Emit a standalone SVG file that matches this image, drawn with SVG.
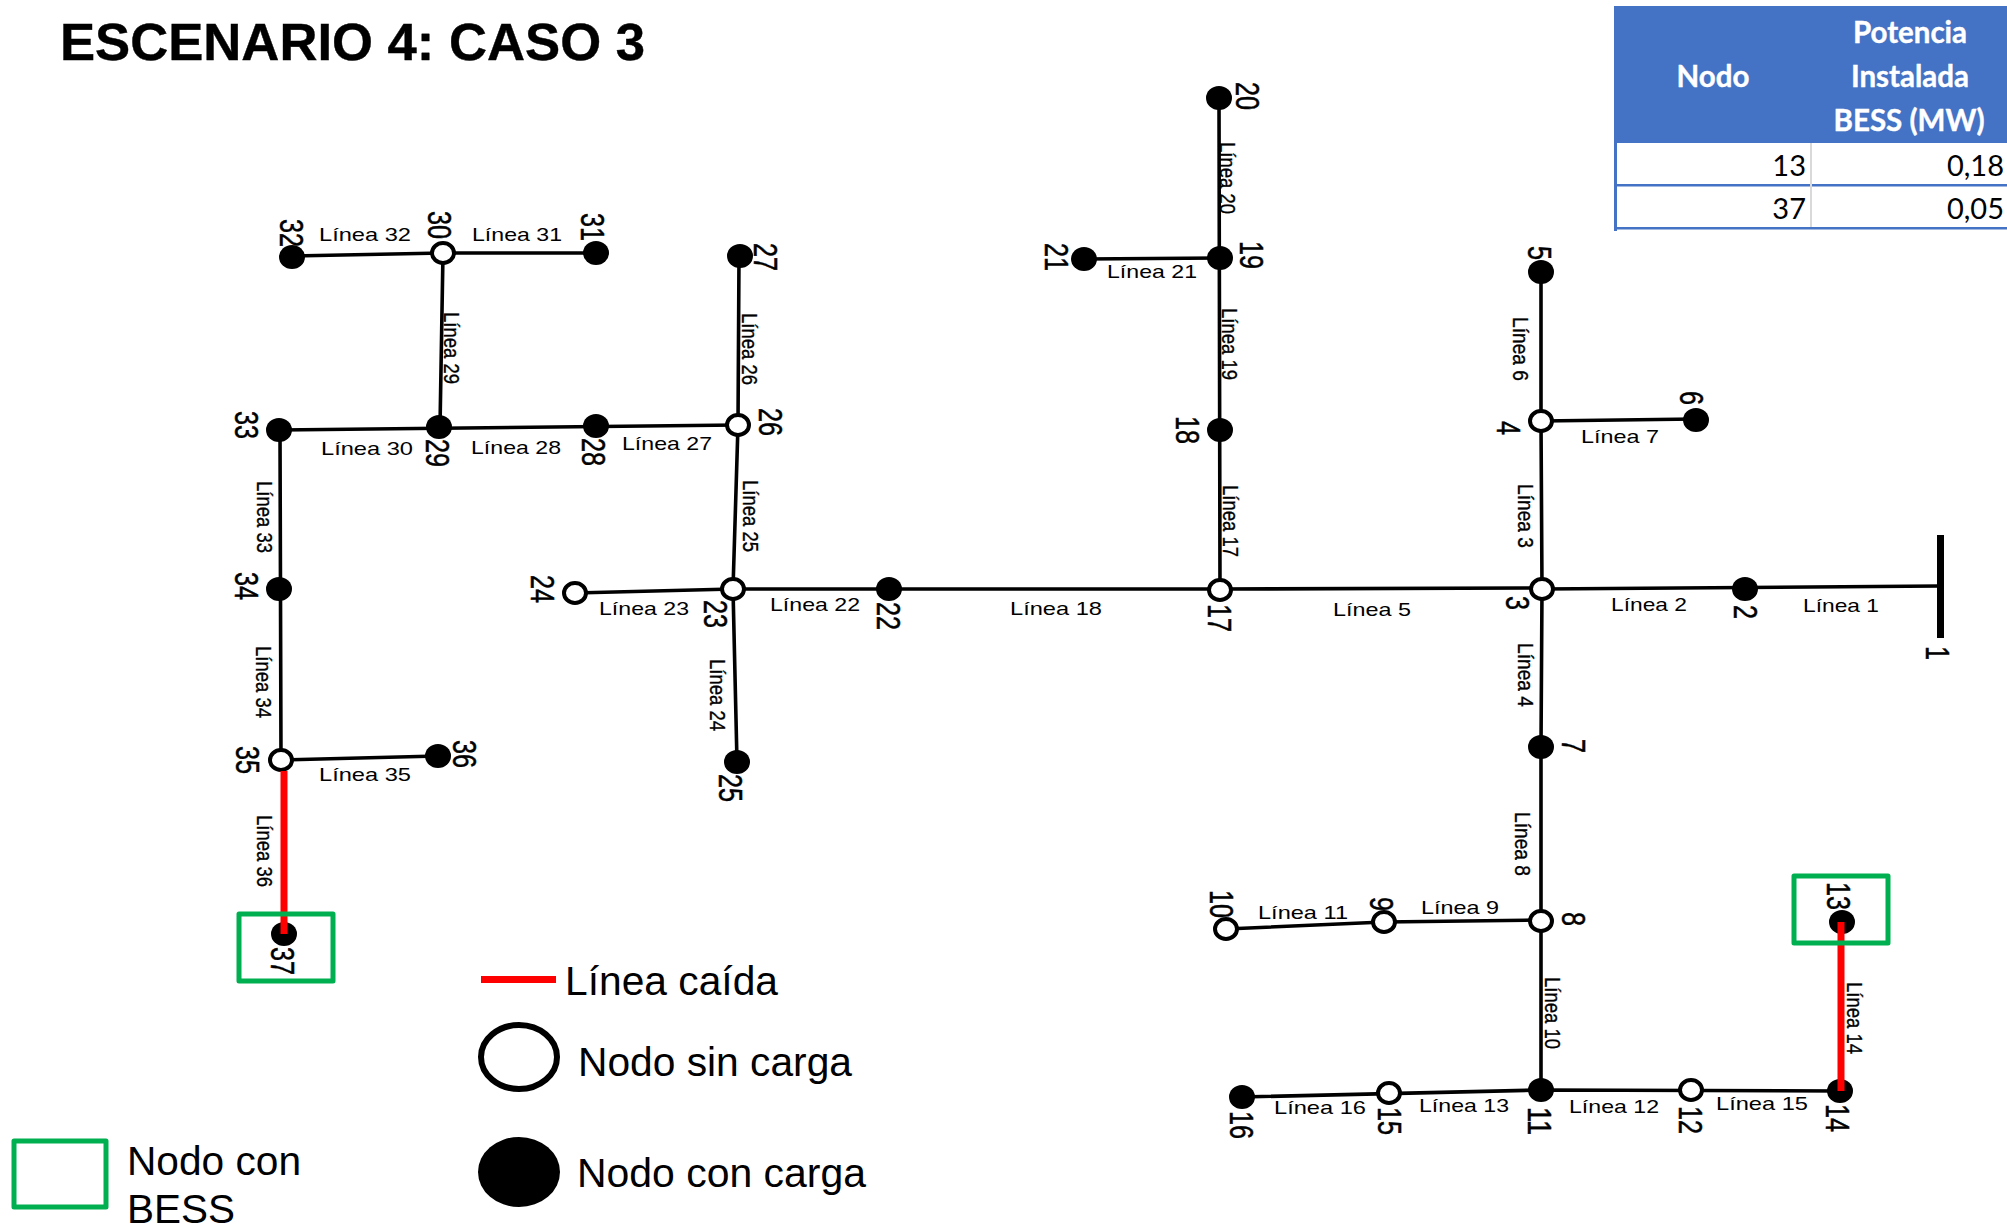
<svg xmlns="http://www.w3.org/2000/svg" width="2007" height="1228" viewBox="0 0 2007 1228">
<style>
text{font-family:"Liberation Sans",Arial,sans-serif;fill:#000}
.l{font-size:19px;text-anchor:middle}
.l[transform*="rotate"]{font-size:22px;stroke:#000;stroke-width:.35px}
.n{font-size:34px;text-anchor:middle;stroke:#000;stroke-width:.5px}
.leg{font-size:40px}
.th{font-family:Lato,"Open Sans",sans-serif;font-size:29.5px;font-weight:700;fill:#fff;stroke:#fff;stroke-width:.4px;text-anchor:middle}
.td{font-family:Lato,"Open Sans",sans-serif;font-size:29px;text-anchor:end}
.w{fill:none;stroke:#000;stroke-width:3.6;stroke-linecap:round;stroke-linejoin:round}
.r{fill:none;stroke:#f00;stroke-width:7}
.o{fill:#fff;stroke:#000;stroke-width:4}
.f{fill:#000}
.b{fill:none;stroke:#00B050;stroke-width:5;stroke-linejoin:round}
</style>
<rect width="2007" height="1228" fill="#fff"/>
<text x="60" y="60" font-size="52" font-weight="700" stroke="#000" stroke-width=".4" textLength="585" lengthAdjust="spacingAndGlyphs">ESCENARIO 4: CASO 3</text>

<g id="table">
<rect x="1614" y="6" width="393" height="137" fill="#4472C4"/>
<rect x="1614" y="6" width="3" height="225" fill="#4472C4"/>
<rect x="1617" y="184" width="390" height="2.5" fill="#4472C4"/>
<rect x="1617" y="227" width="390" height="2.5" fill="#4472C4"/>
<rect x="1810" y="143" width="2" height="84" fill="#d9d9d9"/>
<text class="th" x="1713" y="87">Nodo</text>
<text class="th" x="1910" y="43">Potencia</text>
<text class="th" x="1910" y="87">Instalada</text>
<text class="th" x="1909" y="131">BESS (MW)</text>
<text class="td" x="1806" y="176">13</text>
<text class="td" x="2004" y="176">0,18</text>
<text class="td" x="1806" y="219">37</text>
<text class="td" x="2004" y="219">0,05</text>
</g>

<g id="connectors">
<path class="w" d="M1542 589L1940 586"/>
<path class="w" d="M1542 588L1220 589L733 589L575 593"/>
<path class="w" d="M1542 589L1541 746L1541 920L1541 1090"/>
<path class="w" d="M1542 589L1541 421L1541 271"/>
<path class="w" d="M1541 421L1696 419"/>
<path class="w" d="M1541 920L1384 922L1226 929"/>
<path class="w" d="M1242 1097L1541 1090L1840 1091"/>
<path class="w" d="M1220 590L1219 97"/>
<path class="w" d="M1220 258L1084 259"/>
<path class="w" d="M733 589L737 762"/>
<path class="w" d="M733 589L738 425L739 256"/>
<path class="w" d="M738 425L279 430"/>
<path class="w" d="M440 427L443 253"/>
<path class="w" d="M292 256L443 253L595 253"/>
<path class="w" d="M280 430L281 760L438 756"/>
</g>

<g id="line-labels">
<text class="l" textLength="76" lengthAdjust="spacingAndGlyphs" dy=".35em" transform="translate(1841 605)">Línea 1</text>
<text class="l" textLength="76" lengthAdjust="spacingAndGlyphs" dy=".35em" transform="translate(1649 604)">Línea 2</text>
<text class="l" textLength="64" lengthAdjust="spacingAndGlyphs" dy=".35em" transform="translate(1526 516) rotate(90)">Línea 3</text>
<text class="l" textLength="64" lengthAdjust="spacingAndGlyphs" dy=".35em" transform="translate(1526 675) rotate(90)">Línea 4</text>
<text class="l" textLength="78" lengthAdjust="spacingAndGlyphs" dy=".35em" transform="translate(1372 609)">Línea 5</text>
<text class="l" textLength="64" lengthAdjust="spacingAndGlyphs" dy=".35em" transform="translate(1521 349) rotate(90)">Línea 6</text>
<text class="l" textLength="78" lengthAdjust="spacingAndGlyphs" dy=".35em" transform="translate(1620 436)">Línea 7</text>
<text class="l" textLength="64" lengthAdjust="spacingAndGlyphs" dy=".35em" transform="translate(1523 844) rotate(90)">Línea 8</text>
<text class="l" textLength="78" lengthAdjust="spacingAndGlyphs" dy=".35em" transform="translate(1460 907)">Línea 9</text>
<text class="l" textLength="72" lengthAdjust="spacingAndGlyphs" dy=".35em" transform="translate(1553 1013) rotate(90)">Línea 10</text>
<text class="l" textLength="90" lengthAdjust="spacingAndGlyphs" dy=".35em" transform="translate(1303 912)">Línea 11</text>
<text class="l" textLength="90" lengthAdjust="spacingAndGlyphs" dy=".35em" transform="translate(1614 1106)">Línea 12</text>
<text class="l" textLength="90" lengthAdjust="spacingAndGlyphs" dy=".35em" transform="translate(1464 1105)">Línea 13</text>
<text class="l" textLength="72" lengthAdjust="spacingAndGlyphs" dy=".35em" transform="translate(1855 1018) rotate(90)">Línea 14</text>
<text class="l" textLength="92" lengthAdjust="spacingAndGlyphs" dy=".35em" transform="translate(1762 1103)">Línea 15</text>
<text class="l" textLength="92" lengthAdjust="spacingAndGlyphs" dy=".35em" transform="translate(1320 1107)">Línea 16</text>
<text class="l" textLength="72" lengthAdjust="spacingAndGlyphs" dy=".35em" transform="translate(1231 521) rotate(90)">Línea 17</text>
<text class="l" textLength="92" lengthAdjust="spacingAndGlyphs" dy=".35em" transform="translate(1056 608)">Línea 18</text>
<text class="l" textLength="72" lengthAdjust="spacingAndGlyphs" dy=".35em" transform="translate(1230 344) rotate(90)">Línea 19</text>
<text class="l" textLength="72" lengthAdjust="spacingAndGlyphs" dy=".35em" transform="translate(1228 178) rotate(90)">Línea 20</text>
<text class="l" textLength="90" lengthAdjust="spacingAndGlyphs" dy=".35em" transform="translate(1152 271)">Línea 21</text>
<text class="l" textLength="90" lengthAdjust="spacingAndGlyphs" dy=".35em" transform="translate(815 604)">Línea 22</text>
<text class="l" textLength="90" lengthAdjust="spacingAndGlyphs" dy=".35em" transform="translate(644 608)">Línea 23</text>
<text class="l" textLength="72" lengthAdjust="spacingAndGlyphs" dy=".35em" transform="translate(718 695) rotate(90)">Línea 24</text>
<text class="l" textLength="72" lengthAdjust="spacingAndGlyphs" dy=".35em" transform="translate(751 516) rotate(90)">Línea 25</text>
<text class="l" textLength="72" lengthAdjust="spacingAndGlyphs" dy=".35em" transform="translate(750 349) rotate(90)">Línea 26</text>
<text class="l" textLength="90" lengthAdjust="spacingAndGlyphs" dy=".35em" transform="translate(667 443)">Línea 27</text>
<text class="l" textLength="90" lengthAdjust="spacingAndGlyphs" dy=".35em" transform="translate(516 447)">Línea 28</text>
<text class="l" textLength="72" lengthAdjust="spacingAndGlyphs" dy=".35em" transform="translate(452 348) rotate(90)">Línea 29</text>
<text class="l" textLength="92" lengthAdjust="spacingAndGlyphs" dy=".35em" transform="translate(367 448)">Línea 30</text>
<text class="l" textLength="90" lengthAdjust="spacingAndGlyphs" dy=".35em" transform="translate(517 234)">Línea 31</text>
<text class="l" textLength="92" lengthAdjust="spacingAndGlyphs" dy=".35em" transform="translate(365 234)">Línea 32</text>
<text class="l" textLength="72" lengthAdjust="spacingAndGlyphs" dy=".35em" transform="translate(265 517) rotate(90)">Línea 33</text>
<text class="l" textLength="72" lengthAdjust="spacingAndGlyphs" dy=".35em" transform="translate(264 682) rotate(90)">Línea 34</text>
<text class="l" textLength="92" lengthAdjust="spacingAndGlyphs" dy=".35em" transform="translate(365 774)">Línea 35</text>
<text class="l" textLength="72" lengthAdjust="spacingAndGlyphs" dy=".35em" transform="translate(265 851) rotate(90)">Línea 36</text>
</g>

<g id="nodes">
<g id="node-1"><rect class="f" x="1937" y="535" width="7" height="103"/><text class="n" dy=".35em" textLength="14" lengthAdjust="spacingAndGlyphs" transform="translate(1938 653) rotate(90)">1</text></g>
<g id="node-2"><ellipse class="f" cx="1745" cy="589" rx="13" ry="12"/><text class="n" dy=".35em" textLength="14" lengthAdjust="spacingAndGlyphs" transform="translate(1746 612) rotate(90)">2</text></g>
<g id="node-3"><ellipse class="o" cx="1542" cy="589" rx="11" ry="10"/><text class="n" dy=".35em" textLength="14" lengthAdjust="spacingAndGlyphs" transform="translate(1518 603) rotate(90)">3</text></g>
<g id="node-4"><ellipse class="o" cx="1541" cy="421" rx="11" ry="10"/><text class="n" dy=".35em" textLength="14" lengthAdjust="spacingAndGlyphs" transform="translate(1509 428) rotate(90)">4</text></g>
<g id="node-5"><ellipse class="f" cx="1541" cy="272" rx="13" ry="12"/><text class="n" dy=".35em" textLength="14" lengthAdjust="spacingAndGlyphs" transform="translate(1540 253) rotate(90)">5</text></g>
<g id="node-6"><ellipse class="f" cx="1696" cy="420" rx="13" ry="12"/><text class="n" dy=".35em" textLength="14" lengthAdjust="spacingAndGlyphs" transform="translate(1692 398) rotate(90)">6</text></g>
<g id="node-7"><ellipse class="f" cx="1541" cy="747" rx="13" ry="12"/><text class="n" dy=".35em" textLength="14" lengthAdjust="spacingAndGlyphs" transform="translate(1574 746) rotate(90)">7</text></g>
<g id="node-8"><ellipse class="o" cx="1541" cy="921" rx="11" ry="10"/><text class="n" dy=".35em" textLength="14" lengthAdjust="spacingAndGlyphs" transform="translate(1574 919) rotate(90)">8</text></g>
<g id="node-9"><ellipse class="o" cx="1384" cy="922" rx="11" ry="10"/><text class="n" dy=".35em" textLength="14" lengthAdjust="spacingAndGlyphs" transform="translate(1382 904) rotate(90)">9</text></g>
<g id="node-10"><ellipse class="o" cx="1226" cy="929" rx="11" ry="10"/><text class="n" dy=".35em" textLength="28" lengthAdjust="spacingAndGlyphs" transform="translate(1222 904) rotate(90)">10</text></g>
<g id="node-11"><ellipse class="f" cx="1541" cy="1090" rx="13" ry="12"/><text class="n" dy=".35em" textLength="28" lengthAdjust="spacingAndGlyphs" transform="translate(1540 1121) rotate(90)">11</text></g>
<g id="node-12"><ellipse class="o" cx="1691" cy="1090" rx="11" ry="10"/><text class="n" dy=".35em" textLength="28" lengthAdjust="spacingAndGlyphs" transform="translate(1691 1120) rotate(90)">12</text></g>
<g id="node-13"><ellipse class="f" cx="1842" cy="922" rx="13" ry="12"/><text class="n" dy=".35em" textLength="28" lengthAdjust="spacingAndGlyphs" transform="translate(1839 896) rotate(90)">13</text></g>
<g id="node-14"><ellipse class="f" cx="1840" cy="1091" rx="13" ry="12"/><text class="n" dy=".35em" textLength="28" lengthAdjust="spacingAndGlyphs" transform="translate(1838 1118) rotate(90)">14</text></g>
<g id="node-15"><ellipse class="o" cx="1389" cy="1093" rx="11" ry="10"/><text class="n" dy=".35em" textLength="28" lengthAdjust="spacingAndGlyphs" transform="translate(1390 1121) rotate(90)">15</text></g>
<g id="node-16"><ellipse class="f" cx="1242" cy="1097" rx="13" ry="12"/><text class="n" dy=".35em" textLength="28" lengthAdjust="spacingAndGlyphs" transform="translate(1242 1125) rotate(90)">16</text></g>
<g id="node-17"><ellipse class="o" cx="1220" cy="590" rx="11" ry="10"/><text class="n" dy=".35em" textLength="28" lengthAdjust="spacingAndGlyphs" transform="translate(1220 618) rotate(90)">17</text></g>
<g id="node-18"><ellipse class="f" cx="1220" cy="430" rx="13" ry="12"/><text class="n" dy=".35em" textLength="28" lengthAdjust="spacingAndGlyphs" transform="translate(1188 430) rotate(90)">18</text></g>
<g id="node-19"><ellipse class="f" cx="1220" cy="258" rx="13" ry="12"/><text class="n" dy=".35em" textLength="28" lengthAdjust="spacingAndGlyphs" transform="translate(1252 255) rotate(90)">19</text></g>
<g id="node-20"><ellipse class="f" cx="1219" cy="98" rx="13" ry="12"/><text class="n" dy=".35em" textLength="28" lengthAdjust="spacingAndGlyphs" transform="translate(1248 96) rotate(90)">20</text></g>
<g id="node-21"><ellipse class="f" cx="1084" cy="259" rx="13" ry="12"/><text class="n" dy=".35em" textLength="28" lengthAdjust="spacingAndGlyphs" transform="translate(1057 257) rotate(90)">21</text></g>
<g id="node-22"><ellipse class="f" cx="889" cy="589" rx="13" ry="12"/><text class="n" dy=".35em" textLength="28" lengthAdjust="spacingAndGlyphs" transform="translate(889 616) rotate(90)">22</text></g>
<g id="node-23"><ellipse class="o" cx="733" cy="589" rx="11" ry="10"/><text class="n" dy=".35em" textLength="28" lengthAdjust="spacingAndGlyphs" transform="translate(716 614) rotate(90)">23</text></g>
<g id="node-24"><ellipse class="o" cx="575" cy="593" rx="11" ry="10"/><text class="n" dy=".35em" textLength="28" lengthAdjust="spacingAndGlyphs" transform="translate(543 589) rotate(90)">24</text></g>
<g id="node-25"><ellipse class="f" cx="737" cy="762" rx="13" ry="12"/><text class="n" dy=".35em" textLength="28" lengthAdjust="spacingAndGlyphs" transform="translate(731 788) rotate(90)">25</text></g>
<g id="node-26"><ellipse class="o" cx="738" cy="425" rx="11" ry="10"/><text class="n" dy=".35em" textLength="28" lengthAdjust="spacingAndGlyphs" transform="translate(771 422) rotate(90)">26</text></g>
<g id="node-27"><ellipse class="f" cx="740" cy="256" rx="13" ry="12"/><text class="n" dy=".35em" textLength="28" lengthAdjust="spacingAndGlyphs" transform="translate(766 257) rotate(90)">27</text></g>
<g id="node-28"><ellipse class="f" cx="596" cy="426" rx="13" ry="12"/><text class="n" dy=".35em" textLength="28" lengthAdjust="spacingAndGlyphs" transform="translate(594 452) rotate(90)">28</text></g>
<g id="node-29"><ellipse class="f" cx="439" cy="427" rx="13" ry="12"/><text class="n" dy=".35em" textLength="28" lengthAdjust="spacingAndGlyphs" transform="translate(438 453) rotate(90)">29</text></g>
<g id="node-30"><ellipse class="o" cx="443" cy="253" rx="11" ry="10"/><text class="n" dy=".35em" textLength="28" lengthAdjust="spacingAndGlyphs" transform="translate(440 225) rotate(90)">30</text></g>
<g id="node-31"><ellipse class="f" cx="596" cy="253" rx="13" ry="12"/><text class="n" dy=".35em" textLength="28" lengthAdjust="spacingAndGlyphs" transform="translate(593 227) rotate(90)">31</text></g>
<g id="node-32"><ellipse class="f" cx="292" cy="257" rx="13" ry="12"/><text class="n" dy=".35em" textLength="28" lengthAdjust="spacingAndGlyphs" transform="translate(292 233) rotate(90)">32</text></g>
<g id="node-33"><ellipse class="f" cx="279" cy="430" rx="13" ry="12"/><text class="n" dy=".35em" textLength="28" lengthAdjust="spacingAndGlyphs" transform="translate(247 425) rotate(90)">33</text></g>
<g id="node-34"><ellipse class="f" cx="279" cy="589" rx="13" ry="12"/><text class="n" dy=".35em" textLength="28" lengthAdjust="spacingAndGlyphs" transform="translate(247 586) rotate(90)">34</text></g>
<g id="node-35"><ellipse class="o" cx="281" cy="760" rx="11" ry="10"/><text class="n" dy=".35em" textLength="28" lengthAdjust="spacingAndGlyphs" transform="translate(248 760) rotate(90)">35</text></g>
<g id="node-36"><ellipse class="f" cx="438" cy="756" rx="13" ry="12"/><text class="n" dy=".35em" textLength="28" lengthAdjust="spacingAndGlyphs" transform="translate(465 754) rotate(90)">36</text></g>
<g id="node-37"><ellipse class="f" cx="284" cy="934" rx="13" ry="12"/><text class="n" dy=".35em" textLength="28" lengthAdjust="spacingAndGlyphs" transform="translate(283 961) rotate(90)">37</text></g>
</g>

<g id="connectors-fallen">
<path class="r" d="M284 771V934"/>
<path class="r" d="M1841 922V1091"/>
</g>

<g id="bess-boxes">
<rect class="b" x="1794" y="876" width="94" height="67"/>
<rect class="b" x="239" y="914" width="94" height="67"/>
</g>

<g id="legend">
<path class="r" d="M481 979.5H556"/>
<text class="leg" x="565" y="995" textLength="213" lengthAdjust="spacingAndGlyphs">Línea caída</text>
<ellipse cx="519" cy="1057" rx="38" ry="32" fill="#fff" stroke="#000" stroke-width="6"/>
<text class="leg" x="578" y="1076" textLength="274" lengthAdjust="spacingAndGlyphs">Nodo sin carga</text>
<ellipse class="f" cx="519" cy="1172" rx="41" ry="35"/>
<text class="leg" x="577" y="1187" textLength="289" lengthAdjust="spacingAndGlyphs">Nodo con carga</text>
<rect class="b" x="14" y="1141" width="92" height="66"/>
<text class="leg" x="127" y="1175" textLength="174" lengthAdjust="spacingAndGlyphs">Nodo con</text>
<text class="leg" x="127" y="1223" textLength="108" lengthAdjust="spacingAndGlyphs">BESS</text>
</g>
</svg>
